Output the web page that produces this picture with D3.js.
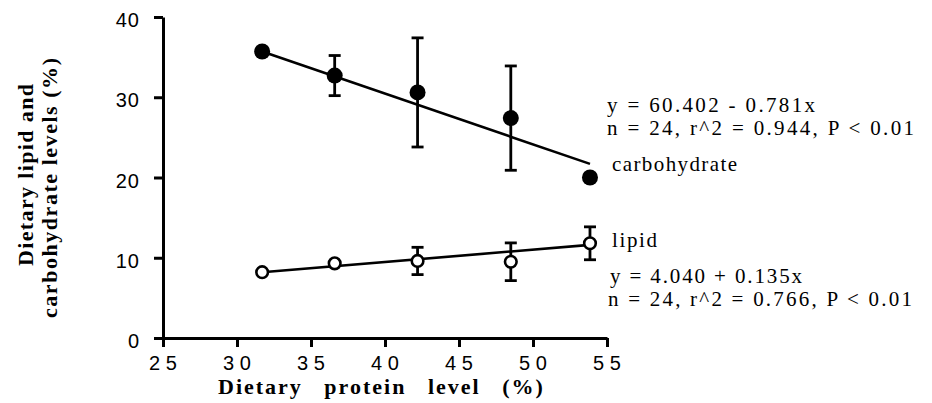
<!DOCTYPE html>
<html>
<head>
<meta charset="utf-8">
<script src="https://d3js.org/d3.v7.min.js"></script>
<style>
  html, body { margin: 0; padding: 0; background: #fff; }
  svg { display: block; }
</style>
</head>
<body>
<svg id="chart" width="932" height="403"></svg>
<script>
// Dietary protein level (%) of each diet, as plotted
const proteinLevels = [31.7, 36.6, 42.2, 48.5, 53.85];

// Carbohydrate level (%) with standard deviation
const carbMeans = [35.7, 32.7, 30.6, 27.4, 20.0];
const carbErrors = [0, 2.5, 6.8, 6.5, 0];

// Lipid level (%) with standard deviation
const lipidMeans = [8.2, 9.3, 9.6, 9.5, 11.8];
const lipidErrors = [0, 0, 1.7, 2.35, 2.05];

// Regression line end points
const carbFitX = [31.7, 53.85];
const carbFitY = [35.7, 21.7];
const lipidFitX = [31.7, 53.85];
const lipidFitY = [8.2, 11.6];

// Axis ticks
const xTicks = [25, 30, 35, 40, 45, 50, 55];
const yTicks = [0, 10, 20, 30, 40];

const svg = d3.select("#chart");

const x = d3.scaleLinear().domain([25, 55]).range([163, 607]);
const y = d3.scaleLinear().domain([0, 40]).range([338, 17]);

const sans = "'Liberation Sans', Arial, Helvetica, sans-serif";
const serif = "'Liberation Serif', 'Times New Roman', Times, serif";

// Axes
const yAxis = svg.append("g")
  .attr("transform", `translate(${x(25)},0)`)
  .call(d3.axisLeft(y).tickValues(yTicks).tickSize(9).tickSizeOuter(0).tickPadding(0));
const xAxis = svg.append("g")
  .attr("transform", `translate(0,${y(0)})`)
  .call(d3.axisBottom(x).tickValues(xTicks).tickSize(9).tickSizeOuter(0).tickPadding(0));

[yAxis, xAxis].forEach(g => {
  g.select(".domain").attr("stroke", "#000").attr("stroke-width", 3);
  g.selectAll(".tick line").attr("stroke", "#000").attr("stroke-width", 3);
  g.selectAll("text").remove();
});

// Y tick labels
svg.append("g").selectAll("text")
  .data(yTicks)
  .join("text")
  .attr("x", 140)
  .attr("y", d => y(d) + 10)
  .attr("text-anchor", "end")
  .attr("font-family", sans)
  .attr("font-size", 20)
  .attr("letter-spacing", 1)
  .attr("fill", "#000")
  .text(d => d);

// X tick labels (digits set apart)
svg.append("g").selectAll("text")
  .data(xTicks)
  .join("text")
  .attr("x", d => x(d))
  .attr("y", 370)
  .attr("text-anchor", "middle")
  .attr("font-family", sans)
  .attr("font-size", 20)
  .attr("fill", "#000")
  .text(d => String(d).split("").join(" "));

// Axis titles
svg.append("text")
  .attr("x", 218)
  .attr("y", 394)
  .attr("font-family", serif)
  .attr("font-weight", "bold")
  .attr("font-size", 22)
  .attr("letter-spacing", 2)
  .attr("word-spacing", 14)
  .text("Dietary protein level (%)");

svg.append("text")
  .attr("transform", "translate(33,266) rotate(-90)")
  .attr("font-family", serif)
  .attr("font-weight", "bold")
  .attr("font-size", 22)
  .attr("textLength", 182)
  .attr("lengthAdjust", "spacing")
  .text("Dietary lipid and");

svg.append("text")
  .attr("transform", "translate(57,318) rotate(-90)")
  .attr("font-family", serif)
  .attr("font-weight", "bold")
  .attr("font-size", 22)
  .attr("textLength", 260)
  .attr("lengthAdjust", "spacing")
  .text("carbohydrate levels (%)");

// Regression lines
const fitLine = d3.line().x(d => x(d[0])).y(d => y(d[1]));
svg.append("path")
  .attr("d", fitLine(d3.zip(carbFitX, carbFitY)))
  .attr("fill", "none").attr("stroke", "#000").attr("stroke-width", 2.6);
svg.append("path")
  .attr("d", fitLine(d3.zip(lipidFitX, lipidFitY)))
  .attr("fill", "none").attr("stroke", "#000").attr("stroke-width", 2.6);

// Error bars
function errorBars(means, errors) {
  const g = svg.append("g").attr("stroke", "#000").attr("stroke-width", 2.8);
  const rows = proteinLevels.map((p, i) => ({ p, m: means[i], e: errors[i] })).filter(d => d.e > 0);
  g.selectAll("line.v").data(rows).join("line")
    .attr("x1", d => x(d.p)).attr("x2", d => x(d.p))
    .attr("y1", d => y(d.m + d.e)).attr("y2", d => y(d.m - d.e));
  g.selectAll("line.top").data(rows).join("line")
    .attr("x1", d => x(d.p) - 6).attr("x2", d => x(d.p) + 6)
    .attr("y1", d => y(d.m + d.e)).attr("y2", d => y(d.m + d.e));
  g.selectAll("line.bot").data(rows).join("line")
    .attr("x1", d => x(d.p) - 6).attr("x2", d => x(d.p) + 6)
    .attr("y1", d => y(d.m - d.e)).attr("y2", d => y(d.m - d.e));
}
errorBars(carbMeans, carbErrors);
errorBars(lipidMeans, lipidErrors);

// Carbohydrate: filled circles
svg.append("g").selectAll("circle")
  .data(carbMeans)
  .join("circle")
  .attr("cx", (d, i) => x(proteinLevels[i]))
  .attr("cy", d => y(d))
  .attr("r", 8)
  .attr("fill", "#000");

// Lipid: open circles
svg.append("g").selectAll("circle")
  .data(lipidMeans)
  .join("circle")
  .attr("cx", (d, i) => x(proteinLevels[i]))
  .attr("cy", d => y(d))
  .attr("r", 5.8)
  .attr("fill", "#fff")
  .attr("stroke", "#000")
  .attr("stroke-width", 2.6);

// Annotations
function note(tx, ty, str, len) {
  svg.append("text")
    .attr("x", tx).attr("y", ty)
    .attr("font-family", serif)
    .attr("font-size", 21)
    .attr("textLength", len)
    .attr("lengthAdjust", "spacing")
    .attr("fill", "#000")
    .text(str);
}
note(607, 112, "y = 60.402 - 0.781x", 208);
note(607, 135, "n = 24, r^2 = 0.944, P < 0.01", 307);
note(612, 171, "carbohydrate", 125);
note(612, 247, "lipid", 45);
note(610, 283, "y = 4.040 + 0.135x", 192);
note(608, 306, "n = 24, r^2 = 0.766, P < 0.01", 304);
</script>
</body>
</html>
